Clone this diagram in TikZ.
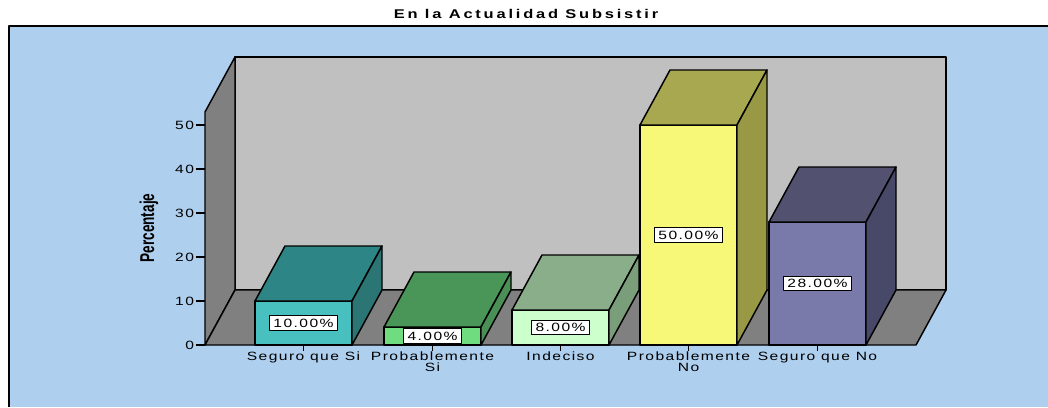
\documentclass[tikz,border=0pt]{standalone}
\usepackage{fontspec}
\setmainfont{Liberation Sans}
\newfontfamily\chartfont[FakeStretch=1.3,LetterSpace=12]{Liberation Sans}
\newfontfamily\titlefont[FakeStretch=1.3,LetterSpace=22]{Liberation Sans}
\newfontfamily\axisfont[FakeStretch=0.68]{Liberation Sans}

\definecolor{chartblue}{RGB}{174,207,238}
\definecolor{wallgray}{RGB}{192,192,192}
\definecolor{floorgray}{RGB}{128,128,128}
\definecolor{tealfront}{RGB}{72,192,192}
\definecolor{tealtop}{RGB}{46,133,133}
\definecolor{tealside}{RGB}{43,117,117}
\definecolor{greenfront}{RGB}{112,220,128}
\definecolor{greentop}{RGB}{74,149,88}
\definecolor{greenside}{RGB}{74,143,85}
\definecolor{mintfront}{RGB}{204,255,204}
\definecolor{minttop}{RGB}{138,174,138}
\definecolor{mintside}{RGB}{122,158,122}
\definecolor{yellowfront}{RGB}{248,248,120}
\definecolor{yellowtop}{RGB}{168,168,80}
\definecolor{yellowside}{RGB}{153,153,69}
\definecolor{purplefront}{RGB}{122,122,170}
\definecolor{purpletop}{RGB}{82,82,112}
\definecolor{purpleside}{RGB}{72,72,104}

\begin{document}
\begin{tikzpicture}[x=0.75pt,y=-0.75pt,line join=round]
    \tikzstyle{face}=[draw=black, line width=1.1pt]
    \tikzstyle{ticklabel}=[anchor=east, inner sep=1pt, font=\chartfont\fontsize{9}{10}\selectfont]
    \tikzstyle{catlabel}=[anchor=north, inner sep=0pt, align=center, font=\chartfont\fontsize{9}{8}\selectfont]
    \tikzstyle{valuebox}=[draw=black, fill=white, line width=0.9pt, inner xsep=3pt, inner ysep=2.2pt, font=\chartfont\fontsize{9}{10}\selectfont]

    \useasboundingbox (0,0) rectangle (1048,407);

    % background panel
    \fill[chartblue] (9,26) rectangle (1048,407);
    \draw[line width=1.3pt] (9,407) -- (9,26) -- (1048,26);
    \node[font=\titlefont\bfseries\fontsize{9.5}{10}\selectfont] (title) at (526,14) {En la Actualidad Subsistir};

    % walls and floor
    \filldraw[face, fill=wallgray] (235,57) rectangle (946,290);
    \filldraw[face, fill=floorgray] (205,345) -- (205,112) -- (235,57) -- (235,290) -- cycle;
    \filldraw[face, fill=floorgray] (205,345) -- (235,290) -- (946,290) -- (916,345) -- cycle;

    % y axis
    \draw[face] (205,345) -- ++(-9,0) node[ticklabel] (t0) {0};
    \draw[face] (205,301) -- ++(-9,0) node[ticklabel] (t10) {10};
    \draw[face] (205,257) -- ++(-9,0) node[ticklabel] (t20) {20};
    \draw[face] (205,213) -- ++(-9,0) node[ticklabel] (t30) {30};
    \draw[face] (205,169) -- ++(-9,0) node[ticklabel] (t40) {40};
    \draw[face] (205,125) -- ++(-9,0) node[ticklabel] (t50) {50};
    \node[rotate=90, font=\axisfont\bfseries\fontsize{15}{16}\selectfont] (ylabel) at (149,228) {Percentaje};

    % Seguro que Si
    \filldraw[face, fill=tealfront] (255,345) rectangle (352,301);
    \filldraw[face, fill=tealtop] (255,301) -- (285,246) -- (382,246) -- (352,301) -- cycle;
    \filldraw[face, fill=tealside] (352,345) -- (352,301) -- (382,246) -- (382,290) -- cycle;
    \node[valuebox] (val1) at (303.5,323) {10.00\%};

    % Probablemente Si
    \filldraw[face, fill=greenfront] (384,345) rectangle (481,327);
    \filldraw[face, fill=greentop] (384,327) -- (414,272) -- (511,272) -- (481,327) -- cycle;
    \filldraw[face, fill=greenside] (481,345) -- (481,327) -- (511,272) -- (511,290) -- cycle;
    \node[valuebox] (val2) at (432.5,336) {4.00\%};

    % Indeciso
    \filldraw[face, fill=mintfront] (512,345) rectangle (609,310);
    \filldraw[face, fill=minttop] (512,310) -- (542,255) -- (639,255) -- (609,310) -- cycle;
    \filldraw[face, fill=mintside] (609,345) -- (609,310) -- (639,255) -- (639,290) -- cycle;
    \node[valuebox] (val3) at (560.5,327.5) {8.00\%};

    % Probablemente No
    \filldraw[face, fill=yellowfront] (640,345) rectangle (737,125);
    \filldraw[face, fill=yellowtop] (640,125) -- (670,70) -- (767,70) -- (737,125) -- cycle;
    \filldraw[face, fill=yellowside] (737,345) -- (737,125) -- (767,70) -- (767,290) -- cycle;
    \node[valuebox] (val4) at (688.5,235) {50.00\%};

    % Seguro que No
    \filldraw[face, fill=purplefront] (769,345) rectangle (866,222);
    \filldraw[face, fill=purpletop] (769,222) -- (799,167) -- (896,167) -- (866,222) -- cycle;
    \filldraw[face, fill=purpleside] (866,345) -- (866,222) -- (896,167) -- (896,290) -- cycle;
    \node[valuebox] (val5) at (817.5,283.5) {28.00\%};

    % categories
    \draw[face] (303.5,345) -- ++(0,6) node[catlabel] (cat1) {Seguro que Si};
    \draw[face] (432.5,345) -- ++(0,6) node[catlabel] (cat2) {Probablemente\\Si};
    \draw[face] (560.5,345) -- ++(0,6) node[catlabel] (cat3) {Indeciso};
    \draw[face] (688.5,345) -- ++(0,6) node[catlabel] (cat4) {Probablemente\\No};
    \draw[face] (817.5,345) -- ++(0,6) node[catlabel] (cat5) {Seguro que No};
\end{tikzpicture}
\end{document}
